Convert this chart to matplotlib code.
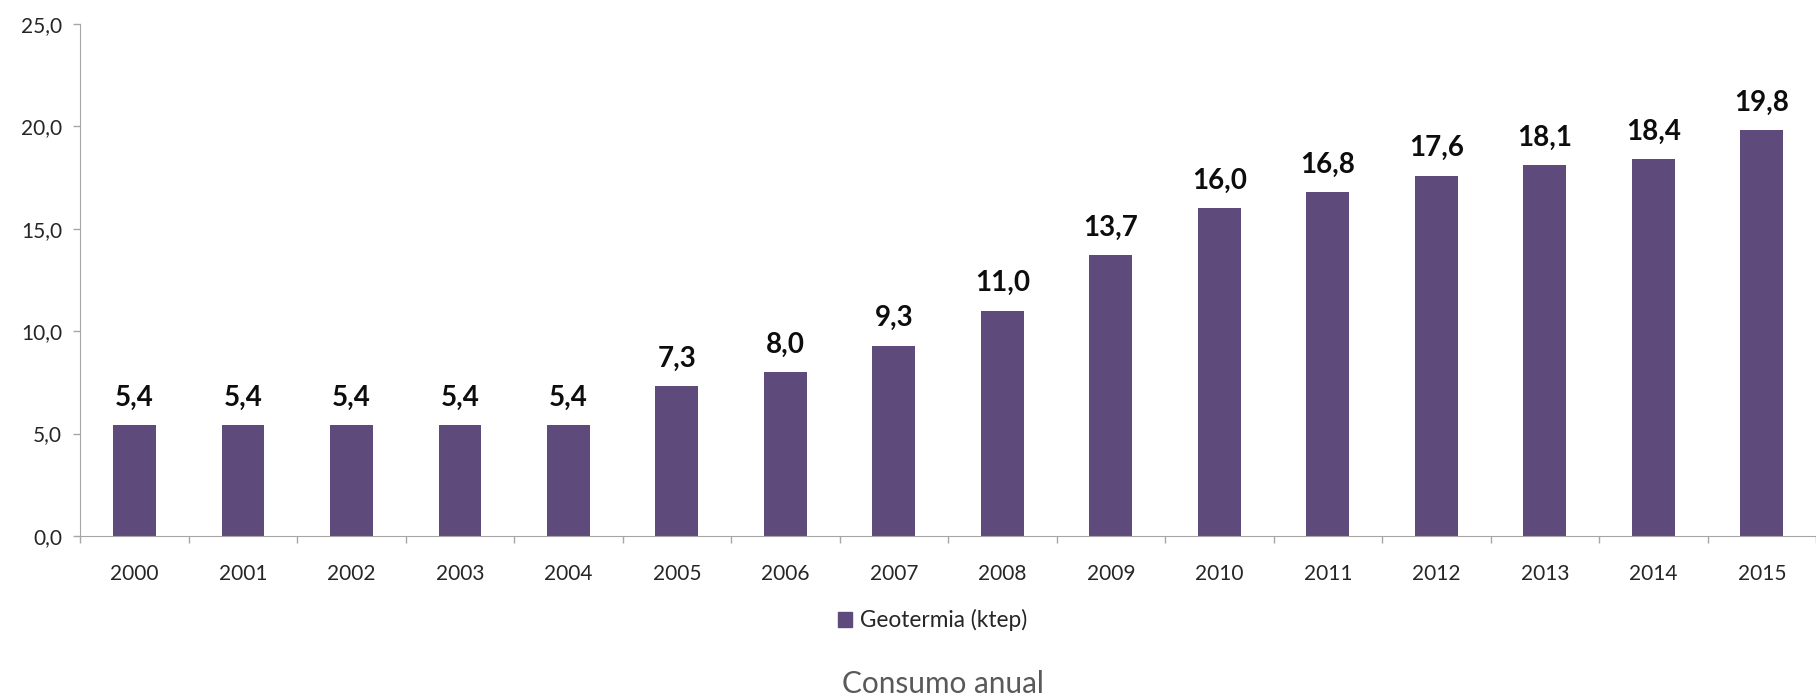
import numpy as np
import matplotlib.pyplot as plt
from matplotlib.patches import Patch

# Datos
anios = ['2000', '2001', '2002', '2003', '2004', '2005', '2006', '2007',
         '2008', '2009', '2010', '2011', '2012', '2013', '2014', '2015']
geotermia = [5.4, 5.4, 5.4, 5.4, 5.4, 7.3, 8.0, 9.3,
             11.0, 13.7, 16.0, 16.8, 17.6, 18.1, 18.4, 19.8]
yticks = [0, 5, 10, 15, 20, 25]

color_barra = '#5f4b7b'
color_eje = '#a6a6a6'

plt.rcParams['font.family'] = ['Lato', 'DejaVu Sans']

fig = plt.figure(figsize=(18.16, 6.99), dpi=100)
ax = fig.add_axes([0.0442, 0.2332, 0.9558, 0.7325])

x = np.arange(len(anios))
ax.bar(x, geotermia, width=0.395, color=color_barra, zorder=2)

# Etiquetas de valor encima de cada barra (coma decimal)
for xi, v in zip(x, geotermia):
    ax.annotate(f'{v:.1f}'.replace('.', ','), (xi, v), xytext=(0, 14),
                textcoords='offset points', ha='center', va='baseline',
                fontsize=20, fontweight='bold', color='#0d0d0d')

ax.set_xlim(-0.5, 15.35)
ax.set_ylim(0, 25)

ax.set_yticks(yticks)
ax.set_yticklabels([f'{t:.1f}'.replace('.', ',') for t in yticks])
ax.set_xticks(x)
ax.set_xticklabels(anios)
ax.set_xticks(np.arange(-0.5, 16, 1), minor=True)

ax.tick_params(axis='y', length=5, width=1, color=color_eje, pad=8,
               labelsize=15, labelcolor='#262626')
ax.tick_params(axis='x', which='major', length=0, pad=20,
               labelsize=15, labelcolor='#262626')
ax.tick_params(axis='x', which='minor', length=5, width=1, color=color_eje)

for lado in ['top', 'right']:
    ax.spines[lado].set_visible(False)
ax.spines['left'].set_color(color_eje)
ax.spines['bottom'].set_color(color_eje)

# Leyenda y título abajo
fig.legend(handles=[Patch(color=color_barra, label='Geotermia (ktep)')],
           loc='center', bbox_to_anchor=(0.5135, 0.113), frameon=False,
           fontsize=16.3, handlelength=0.65, handleheight=0.65, handletextpad=0.35,
           labelcolor='#262626')
fig.text(0.519, 0.009, 'Consumo anual', ha='center', va='baseline',
         fontsize=21.4, color='#595959')

plt.savefig('out.png', dpi=100)
